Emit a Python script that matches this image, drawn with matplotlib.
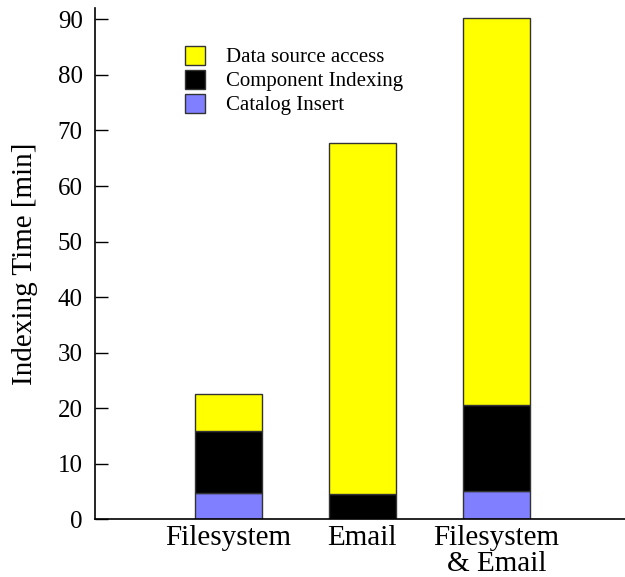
import matplotlib
matplotlib.use("Agg")
import matplotlib.pyplot as plt
from matplotlib.patches import Patch

categories = ["Filesystem", "Email", "Filesystem\n& Email"]
catalog_insert = [4.8, 0.0, 5.1]
component_indexing = [11.2, 4.6, 15.5]
data_source_access = [6.5, 63.2, 69.7]
yticks = [0, 10, 20, 30, 40, 50, 60, 70, 80, 90]

plt.rcParams['font.family'] = ['Liberation Serif', 'DejaVu Serif']

fig = plt.figure(figsize=(6.25, 5.77), dpi=100)
ax = fig.add_axes([0.1512, 0.0997, 0.8488, 0.886])

x = [1, 2, 3]
w = 0.5
ec = '#333333'
b1 = ax.bar(x, catalog_insert, width=w, color='#7f7fff', edgecolor=ec, linewidth=1)
bottom2 = catalog_insert
b2 = ax.bar(x, component_indexing, width=w, bottom=bottom2, color='black', edgecolor=ec, linewidth=1)
bottom3 = [a + b for a, b in zip(catalog_insert, component_indexing)]
b3 = ax.bar(x, data_source_access, width=w, bottom=bottom3, color='#ffff00', edgecolor=ec, linewidth=1)

ax.set_xlim(0, 3.96)
ax.set_ylim(0, 92)
ax.set_yticks(yticks)
ax.set_xticks(x)
ax.set_xticklabels(categories, fontsize=21, linespacing=0.98)
ax.tick_params(axis='x', length=0, pad=4)
ax.tick_params(axis='y', direction='in', length=9, width=1, pad=8.5, labelsize=18)
for s in ['top', 'right']:
    ax.spines[s].set_visible(False)
ax.spines['left'].set_linewidth(1.2)
ax.spines['bottom'].set_linewidth(1.2)
ax.set_ylabel("Indexing Time [min]", fontsize=21, labelpad=14)

handles = [Patch(facecolor='#ffff00', edgecolor=ec),
           Patch(facecolor='black', edgecolor=ec),
           Patch(facecolor='#7f7fff', edgecolor=ec)]
labels = ["Data source access", "Component Indexing", "Catalog Insert"]
fig.legend(handles, labels, loc='upper left', bbox_to_anchor=(185/625, 1 - 46/577),
           frameon=False, fontsize=15, handlelength=0.95, handleheight=1.0,
           labelspacing=0.12, handletextpad=1.0, borderpad=0, borderaxespad=0)

fig.savefig("out.png", dpi=100)
